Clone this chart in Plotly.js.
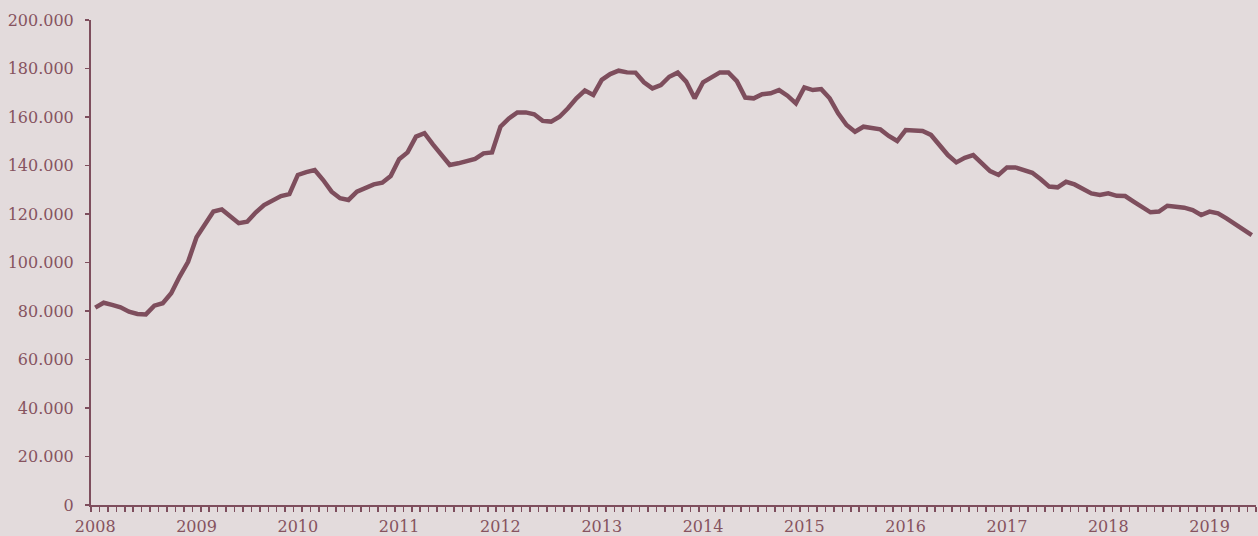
<!DOCTYPE html>
<html>
<head>
<meta charset="utf-8">
<script src="https://cdn.plot.ly/plotly-3.0.1.min.js"></script>
<style>
  html, body { margin: 0; padding: 0; background: #E3DBDC; }
  #chart { width: 1258px; height: 536px; }
</style>
</head>
<body>
<div id="chart"></div>
<script>
// Monthly series, January 2008 .. June 2019
const startYear = 2008;
const values = [
  81.4, 83.4, 82.5, 81.5, 79.7, 78.8, 78.6, 82.2, 83.2, 87.3, 94.2, 100.3,
  110.4, 115.5, 121.0, 121.9, 118.9, 116.2, 116.8, 120.6, 123.7, 125.8, 127.4, 128.2,
  136.1, 137.3, 138.1, 134.0, 129.2, 126.5, 125.8, 129.2, 130.6, 132.2, 132.9, 135.7,
  142.6, 145.4, 151.9, 153.3, 148.7, 144.3, 140.2, 140.9, 142.0, 142.7, 145.0, 145.4,
  156.0, 159.4, 161.9, 161.9, 161.1, 158.4, 158.1, 160.1, 163.6, 167.7, 170.9, 169.1,
  175.3, 177.7, 179.1, 178.4, 178.3, 174.3, 171.8, 173.2, 176.6, 178.3, 174.6, 167.7,
  174.3, 176.6, 178.4, 178.4, 174.8, 168.0, 167.7, 169.4, 169.8, 171.1, 168.8, 165.6,
  172.2, 171.1, 171.5, 167.7, 161.5, 156.7, 153.9, 156.0, 155.6, 154.9, 152.2, 150.1,
  154.6, 154.6, 154.2, 152.6, 148.2, 144.3, 141.3, 143.2, 144.3, 141.3, 137.7, 136.1,
  139.2, 139.2, 138.1, 137.0, 134.3, 131.3, 131.0, 133.3, 132.2, 130.2, 128.5, 127.8,
  128.5, 127.5, 127.4, 125.1, 123.0, 120.7, 121.0, 123.4, 123.0, 122.6, 121.6, 119.6,
  121.0, 120.3, 118.2, 115.9, 114.1, 111.3
];
const yearLabels = ['2008','2009','2010','2011','2012','2013','2014','2015','2016','2017','2018','2019'];
const yTicks = [0, 20000, 40000, 60000, 80000, 100000, 120000, 140000, 160000, 180000, 200000];

const monthIndex = values.map((_, i) => i);
const yValues = values.map(v => v * 1000);
const yearTickPos = yearLabels.map((_, k) => k * 12);

const lineColor = '#7E4E5D';
const textColor = '#86535F';
const bg = '#E3DBDC';

const trace = {
  x: monthIndex,
  y: yValues,
  type: 'scatter',
  mode: 'lines',
  line: { color: lineColor, width: 4.5, shape: 'linear' },
  hoverinfo: 'skip'
};

const layout = {
  width: 1258,
  height: 536,
  paper_bgcolor: bg,
  plot_bgcolor: bg,
  separators: ',.',
  showlegend: false,
  margin: { l: 91, r: 2, t: 20, b: 31, pad: 0 },
  font: { family: 'DejaVu Serif, serif', size: 16, color: textColor },
  xaxis: {
    range: [-0.5, values.length - 0.5],
    tickmode: 'array',
    tickvals: yearTickPos,
    ticktext: yearLabels,
    ticks: '',
    showgrid: false,
    zeroline: false,
    showline: true,
    linecolor: lineColor,
    linewidth: 2,
    ticklabelstandoff: 6,
    tickfont: { family: 'DejaVu Serif, serif', size: 16, color: textColor },
    minor: {
      ticks: 'outside',
      tick0: -0.5,
      dtick: 1,
      ticklen: 5,
      tickwidth: 1.5,
      tickcolor: lineColor,
      showgrid: false
    },
    fixedrange: true
  },
  yaxis: {
    range: [0, 200000],
    tickmode: 'array',
    tickvals: yTicks,
    tickformat: ',.0f',
    ticks: 'outside',
    ticklen: 4,
    tickwidth: 1.5,
    tickcolor: lineColor,
    showgrid: false,
    zeroline: false,
    showline: true,
    linecolor: lineColor,
    linewidth: 2,
    ticklabelstandoff: 8,
    tickfont: { family: 'DejaVu Serif, serif', size: 16, color: textColor },
    fixedrange: true
  }
};

Plotly.newPlot('chart', [trace], layout, { displayModeBar: false, staticPlot: true });
</script>
</body>
</html>
